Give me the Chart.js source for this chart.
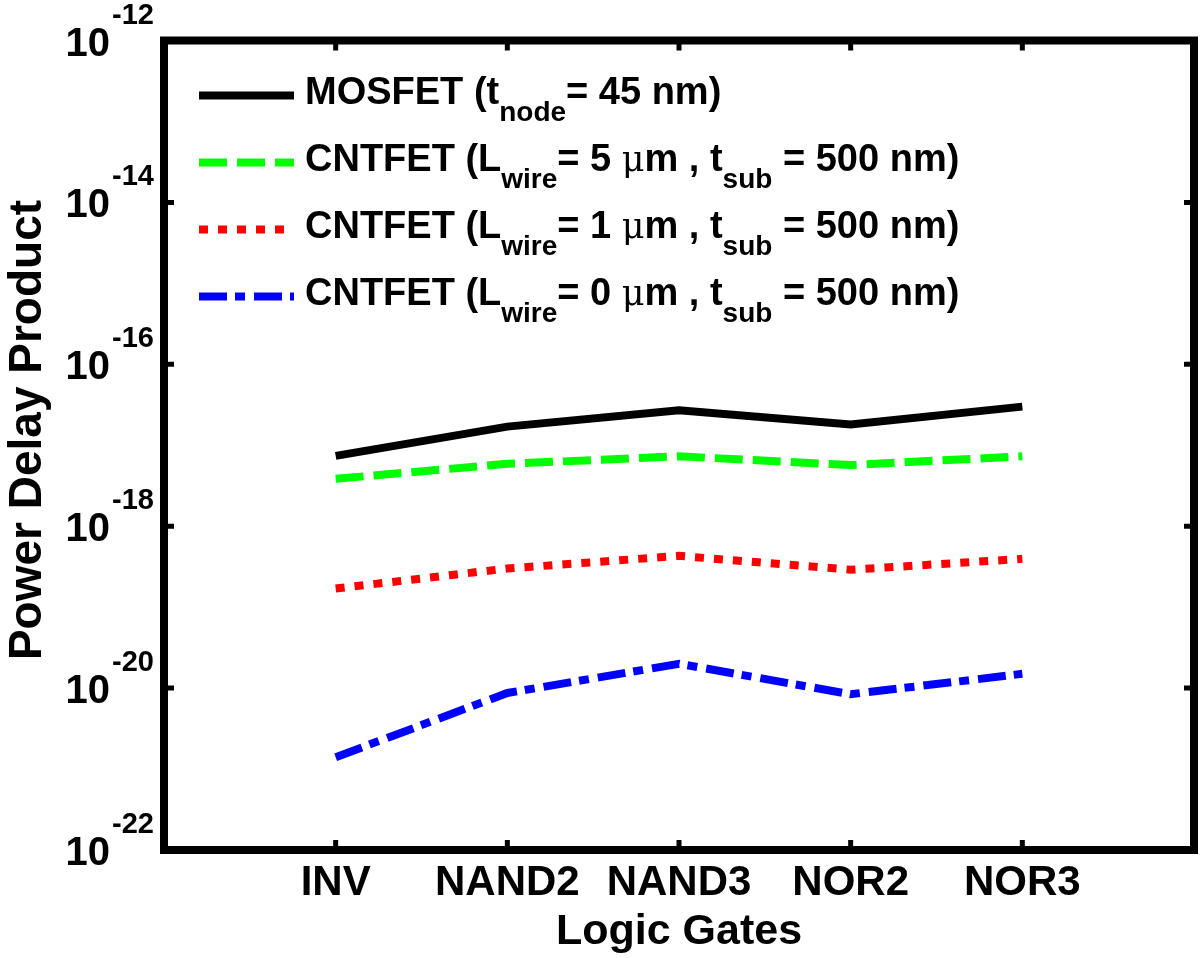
<!DOCTYPE html>
<html>
<head>
<meta charset="utf-8">
<script src="https://cdn.jsdelivr.net/npm/chart.js@4.4.1/dist/chart.umd.min.js"></script>
<style>
  html, body { margin: 0; padding: 0; background: #ffffff; }
  #wrap { position: relative; width: 1200px; height: 958px; }
</style>
</head>
<body>
<div id="wrap"><canvas id="c" width="1200" height="958"></canvas></div>
<script>
// ---- data ----
const categories = ['INV', 'NAND2', 'NAND3', 'NOR2', 'NOR3'];
const mosfet45   = [7.4e-18, 1.7e-17, 2.7e-17, 1.8e-17, 3.0e-17];
const cnt5um     = [3.85e-18, 5.9e-18, 7.3e-18, 5.7e-18, 7.3e-18];
const cnt1um     = [1.7e-19, 3.0e-19, 4.3e-19, 2.9e-19, 3.95e-19];
const cnt0um     = [1.4e-21, 8.7e-21, 2.0e-20, 8.4e-21, 1.5e-20];
const yTickExponents = [-12, -14, -16, -18, -20, -22];
const xTitle = 'Logic Gates';
const yTitle = 'Power Delay Product';
// legend labels as rich-text segments (s: subscript, g: greek/thin)
const legendMosfet = [{t: 'MOSFET (t'}, {t: 'node', s: true}, {t: '= 45 nm)'}];
const legendCnt5   = [{t: 'CNTFET (L'}, {t: 'wire', s: true}, {t: '= 5 '}, {t: 'μ', g: true}, {t: 'm , t'}, {t: 'sub', s: true}, {t: ' = 500 nm)'}];
const legendCnt1   = [{t: 'CNTFET (L'}, {t: 'wire', s: true}, {t: '= 1 '}, {t: 'μ', g: true}, {t: 'm , t'}, {t: 'sub', s: true}, {t: ' = 500 nm)'}];
const legendCnt0   = [{t: 'CNTFET (L'}, {t: 'wire', s: true}, {t: '= 0 '}, {t: 'μ', g: true}, {t: 'm , t'}, {t: 'sub', s: true}, {t: ' = 500 nm)'}];

const FONT = '"Liberation Sans", Arial, Helvetica, sans-serif';

function pts(arr) { return arr.map((v, i) => ({x: i + 1, y: v})); }

const datasets = [
  {label: 'MOSFET', data: pts(mosfet45), borderColor: '#000000', borderDash: [], rich: legendMosfet},
  {label: 'CNTFET 5um', data: pts(cnt5um), borderColor: '#00ff00', borderDash: [28, 10], rich: legendCnt5},
  {label: 'CNTFET 1um', data: pts(cnt1um), borderColor: '#ff0000', borderDash: [9, 10], rich: legendCnt1},
  {label: 'CNTFET 0um', data: pts(cnt0um), borderColor: '#0000ff', borderDash: [28, 8, 10, 9], rich: legendCnt0}
].map(d => Object.assign({
  borderWidth: 8, pointRadius: 0, fill: false, tension: 0,
  borderCapStyle: 'butt', borderJoinStyle: 'miter', clip: false
}, d));

function drawRich(ctx, segs, x, y, mainSize, subSize) {
  let cx = x;
  for (const sg of segs) {
    if (sg.s) {
      ctx.font = 'bold ' + subSize + 'px ' + FONT;
      ctx.fillText(sg.t, cx, y + 17);
    } else if (sg.g) {
      ctx.font = 'normal ' + (mainSize - 3) + 'px "DejaVu Serif", serif';
      ctx.fillText(sg.t, cx, y);
    } else {
      ctx.font = 'bold ' + mainSize + 'px ' + FONT;
      ctx.fillText(sg.t, cx, y);
    }
    cx += ctx.measureText(sg.t).width;
  }
}

const decorPlugin = {
  id: 'decor',
  afterDraw(chart) {
    const ctx = chart.ctx;
    const a = chart.chartArea;
    const xs = chart.scales.x, ys = chart.scales.y;
    ctx.save();
    ctx.fillStyle = '#000';
    ctx.strokeStyle = '#000';
    // frame
    ctx.lineWidth = 8;
    ctx.lineJoin = 'miter';
    ctx.strokeRect(a.left, a.top, a.right - a.left, a.bottom - a.top);
    // ticks (inward)
    ctx.lineWidth = 5;
    ctx.lineCap = 'butt';
    categories.forEach((c, i) => {
      const px = xs.getPixelForValue(i + 1);
      ctx.beginPath();
      ctx.moveTo(px, a.bottom); ctx.lineTo(px, a.bottom - 10);
      ctx.moveTo(px, a.top); ctx.lineTo(px, a.top + 10);
      ctx.stroke();
    });
    yTickExponents.forEach(e => {
      const py = ys.getPixelForValue(Math.pow(10, e));
      if (py <= a.top + 1 || py >= a.bottom - 1) return;
      ctx.beginPath();
      ctx.moveTo(a.left, py); ctx.lineTo(a.left + 10, py);
      ctx.moveTo(a.right, py); ctx.lineTo(a.right - 10, py);
      ctx.stroke();
    });
    // x tick labels
    ctx.textBaseline = 'alphabetic';
    ctx.textAlign = 'center';
    ctx.font = 'bold 42px ' + FONT;
    categories.forEach((c, i) => {
      ctx.fillText(c, xs.getPixelForValue(i + 1), a.bottom + 45);
    });
    // x title
    ctx.font = 'bold 43px ' + FONT;
    ctx.fillText(xTitle, (a.left + a.right) / 2, 944);
    // y tick labels 10^e
    yTickExponents.forEach(e => {
      const py = ys.getPixelForValue(Math.pow(10, e));
      const sup = String(e);
      ctx.font = 'bold 29px ' + FONT;
      const sw = ctx.measureText(sup).width;
      const supRight = 154;
      ctx.textAlign = 'right';
      ctx.fillText(sup, supRight, py - 17);
      ctx.font = 'bold 40px ' + FONT;
      ctx.fillText('10', supRight - sw - 2, py + 15);
    });
    // y title
    ctx.save();
    ctx.translate(41, 430);
    ctx.rotate(-Math.PI / 2);
    ctx.textAlign = 'center';
    ctx.font = 'bold 46px ' + FONT;
    ctx.fillText(yTitle, 0, 0);
    ctx.restore();
    // legend
    const rows = [95.5, 162.5, 229.5, 296.5];
    chart.data.datasets.forEach((ds, i) => {
      const y = rows[i];
      ctx.save();
      ctx.strokeStyle = ds.borderColor;
      ctx.lineWidth = ds.borderWidth;
      ctx.setLineDash(ds.borderDash);
      ctx.lineCap = 'butt';
      ctx.beginPath();
      ctx.moveTo(199, y); ctx.lineTo(294, y);
      ctx.stroke();
      ctx.restore();
      ctx.textAlign = 'left';
      drawRich(ctx, ds.rich, 305, y + 8, 38, 28);
    });
    ctx.restore();
  }
};

new Chart(document.getElementById('c'), {
  type: 'line',
  data: { datasets },
  options: {
    responsive: false,
    animation: false,
    devicePixelRatio: 1,
    layout: { padding: { left: 164, top: 40.5, right: 6, bottom: 108 } },
    plugins: { legend: { display: false }, tooltip: { enabled: false }, title: { display: false } },
    scales: {
      x: { type: 'linear', min: 0, max: 6, display: false },
      y: { type: 'logarithmic', min: 1e-22, max: 1e-12, display: false }
    }
  },
  plugins: [decorPlugin]
});
</script>
</body>
</html>
